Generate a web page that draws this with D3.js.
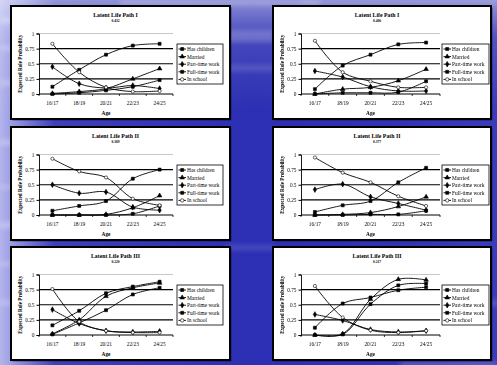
<!DOCTYPE html>
<html><head><meta charset="utf-8">
<script src="https://cdn.jsdelivr.net/npm/d3@7"></script>
<style>html,body{margin:0;padding:0;overflow:hidden;background:#2d30b3}svg{display:block}</style>
</head><body><svg id="c" width="497" height="365"></svg>
<script>
// Categories, labels and per-path values (one row per panel, one column per age band)
const ages = ["16/17", "18/19", "20/21", "22/23", "24/25"];
const seriesNames = ["Has children", "Married", "Part-time work", "Full-time work", "In school"];
const yTicks = [0, 0.25, 0.5, 0.75, 1];
const yTickLabels = ["0", "0.25", "0.5", "0.75", "1"];
const titles = ["Latent Life Path I", "Latent Life Path I", "Latent Life Path II", "Latent Life Path II", "Latent Life Path III", "Latent Life Path III"];
const shares = ["0.432", "0.406", "0.369", "0.377", "0.220", "0.217"];

const hasChildren = [
  [0.00, 0.02, 0.06, 0.12, 0.23],
  [0.00, 0.02, 0.02, 0.03, 0.21],
  [0.00, 0.00, 0.00, 0.02, 0.15],
  [0.00, 0.00, 0.01, 0.01, 0.07],
  [0.01, 0.20, 0.41, 0.67, 0.78],
  [0.00, 0.01, 0.51, 0.82, 0.85]
];
const married = [
  [0.01, 0.04, 0.09, 0.25, 0.42],
  [0.00, 0.08, 0.11, 0.22, 0.41],
  [0.00, 0.00, 0.01, 0.12, 0.32],
  [0.00, 0.01, 0.04, 0.14, 0.30],
  [0.02, 0.25, 0.64, 0.78, 0.86],
  [0.00, 0.02, 0.59, 0.92, 0.91]
];
const partTime = [
  [0.45, 0.17, 0.10, 0.14, 0.09],
  [0.38, 0.28, 0.12, 0.05, 0.05],
  [0.50, 0.36, 0.38, 0.13, 0.08],
  [0.42, 0.51, 0.30, 0.19, 0.08],
  [0.42, 0.19, 0.07, 0.05, 0.06],
  [0.34, 0.24, 0.09, 0.05, 0.07]
];
const fullTime = [
  [0.12, 0.40, 0.65, 0.80, 0.83],
  [0.08, 0.47, 0.65, 0.82, 0.85],
  [0.07, 0.15, 0.23, 0.60, 0.75],
  [0.05, 0.16, 0.23, 0.54, 0.78],
  [0.16, 0.40, 0.69, 0.80, 0.88],
  [0.12, 0.52, 0.62, 0.74, 0.79]
];
const inSchool = [
  [0.83, 0.36, 0.11, 0.04, 0.05],
  [0.88, 0.36, 0.21, 0.11, 0.11],
  [0.93, 0.72, 0.62, 0.27, 0.16],
  [0.95, 0.70, 0.54, 0.31, 0.15],
  [0.76, 0.22, 0.07, 0.04, 0.04],
  [0.81, 0.29, 0.08, 0.04, 0.07]
];
const seriesValues = [hasChildren, married, partTime, fullTime, inSchool];
const markerTypes = [d3.symbolSquare, d3.symbolTriangle, d3.symbolDiamond, d3.symbolSquare, d3.symbolCircle];
const markerFill = ["#000", "#000", "#000", "#000", "#fff"];

const W = 497, H = 365;
const svg = d3.select("#c");
const defs = svg.append("defs");

// ---- backdrop: blue slide texture ----
const bg = defs.append("linearGradient").attr("id", "bgH").attr("x1", 0).attr("x2", 1).attr("y1", 0).attr("y2", 0);
[[0, "#b4b5ec"], [0.05, "#7e81da"], [0.11, "#3c40bb"], [0.5, "#2c2fb3"], [0.8, "#3033b5"], [1, "#3a3dba"]]
  .forEach(([o, c]) => bg.append("stop").attr("offset", o).attr("stop-color", c));
const bgV = defs.append("linearGradient").attr("id", "bgV").attr("x1", 0).attr("x2", 0).attr("y1", 0).attr("y2", 1);
[[0, "#ffffff", 0.45], [0.1, "#ffffff", 0.12], [0.3, "#ffffff", 0.0], [1, "#ffffff", 0.0]]
  .forEach(([o, c, a]) => bgV.append("stop").attr("offset", o).attr("stop-color", c).attr("stop-opacity", a));
defs.append("filter").attr("id", "blur").attr("x", "-20%").attr("y", "-50%").attr("width", "140%").attr("height", "200%")
  .append("feGaussianBlur").attr("stdDeviation", 2.5);

svg.append("rect").attr("width", W).attr("height", H).attr("fill", "url(#bgH)");
svg.append("rect").attr("width", W).attr("height", H).attr("fill", "url(#bgV)");
const streaks = [
  [0, 18, 40, 5, 0.35], [0, 46, 30, 4, 0.3], [0, 80, 45, 6, 0.25], [0, 140, 35, 5, 0.3],
  [0, 185, 50, 4, 0.25], [0, 222, 40, 6, 0.3], [0, 262, 30, 4, 0.25], [0, 300, 40, 5, 0.25],
  [225, 30, 50, 12, 0.22], [225, 65, 50, 6, 0.15], [225, 245, 50, 5, 0.15],
  [400, 362, 97, 6, 0.2], [470, 300, 30, 6, 0.15], [120, 0, 200, 5, 0.25], [300, 0, 197, 4, 0.15]
];
svg.append("g").attr("filter", "url(#blur)").selectAll("rect").data(streaks).join("rect")
  .attr("x", d => d[0]).attr("y", d => d[1]).attr("width", d => d[2]).attr("height", d => d[3])
  .attr("fill", "#ffffff").attr("opacity", d => d[4]);

// ---- panels ----
const colX = [11, 273], colW = [219, 218];
const rowY = [6, 127, 247], rowH = 113;
const plotW = [134, 139], legendOff = [166, 169], legendW = [46, 47];
const font = "'Liberation Serif','Times New Roman',serif";

for (let p = 0; p < 6; p++) {
  const col = p % 2, row = Math.floor(p / 2);
  const px = colX[col], py = rowY[row], pw = colW[col];
  const g = svg.append("g").attr("transform", `translate(${px},${py})`);

  g.append("rect").attr("x", 1.5).attr("y", 1.5).attr("width", pw).attr("height", rowH)
    .attr("fill", "#0a0a30").attr("opacity", 0.5);
  g.append("rect").attr("width", pw).attr("height", rowH).attr("fill", "#fff")
    .attr("stroke", "#000").attr("stroke-width", 2);

  const left = 28, top = 27.5, bottom = 88;
  const x = d3.scalePoint().domain(ages).range([left, left + plotW[col]]).padding(0.5);
  const y = d3.scaleLinear().domain([0, 1]).range([bottom, top]);

  // titles
  const cx = pw / 2 - 5;
  g.append("text").attr("x", cx).attr("y", 11).attr("text-anchor", "middle")
    .attr("font-family", font).attr("font-weight", "bold").attr("font-size", 5.8).attr("fill", "#000").text(titles[p]);
  g.append("text").attr("x", cx).attr("y", 16).attr("text-anchor", "middle")
    .attr("font-family", font).attr("font-weight", "bold").attr("font-size", 3.6).attr("fill", "#000").text(shares[p]);

  // gridlines
  g.selectAll("line.grid").data(yTicks.filter(v => v > 0)).join("line")
    .attr("x1", left).attr("x2", left + plotW[col])
    .attr("y1", d => y(d)).attr("y2", d => y(d))
    .attr("stroke", d => d === 1 ? "#b8b8b8" : "#000")
    .attr("stroke-width", d => d === 1 ? 0.8 : 1.1);

  // y axis
  const yAxis = d3.axisLeft(y).tickValues(yTicks).tickFormat((d, i) => yTickLabels[i]).tickSize(2.5).tickPadding(2);
  const ya = g.append("g").attr("transform", `translate(${left},0)`).call(yAxis);
  ya.select(".domain").attr("stroke", "#000").attr("stroke-width", 0.9);
  ya.selectAll("text").attr("font-family", font).attr("font-size", 5.3).attr("fill", "#000");

  // x axis with ticks between categories
  const step = x.step();
  const xa = g.append("g").attr("transform", `translate(0,${bottom})`);
  xa.append("line").attr("x1", left).attr("x2", left + plotW[col]).attr("stroke", "#000").attr("stroke-width", 1);
  const bounds = d3.range(ages.length + 1).map(i => left + i * step);
  xa.selectAll("line.tk").data(bounds).join("line").attr("class", "tk")
    .attr("x1", d => d).attr("x2", d => d).attr("y1", 0).attr("y2", 2).attr("stroke", "#000").attr("stroke-width", 0.8);
  xa.selectAll("text").data(ages).join("text")
    .attr("x", d => x(d)).attr("y", 10.5).attr("text-anchor", "middle")
    .attr("font-family", font).attr("font-size", 5.3).text(d => d);

  g.append("text").attr("x", left + plotW[col] / 2).attr("y", 108.5).attr("text-anchor", "middle")
    .attr("font-family", font).attr("font-weight", "bold").attr("font-size", 5.3).text("Age");
  g.append("text").attr("transform", `translate(10.5,${(top + bottom) / 2}) rotate(-90)`)
    .attr("text-anchor", "middle").attr("font-family", font).attr("font-weight", "bold")
    .attr("font-size", 5.2).text("Expected Role Probability");

  // series
  const line = d3.line().x((d, i) => x(ages[i])).y(d => y(d)).curve(d3.curveCatmullRom.alpha(0.5));
  seriesValues.forEach((arr, s) => {
    const vals = arr[p];
    g.append("path").attr("d", line(vals)).attr("fill", "none").attr("stroke", "#000").attr("stroke-width", 0.9);
    g.selectAll(null).data(vals).join("path")
      .attr("transform", (d, i) => `translate(${x(ages[i])},${y(d)})`)
      .attr("d", d3.symbol().type(markerTypes[s]).size(s === 4 ? 8 : 9))
      .attr("fill", markerFill[s]).attr("stroke", "#000").attr("stroke-width", 0.6);
  });

  // legend
  const lx = legendOff[col], ly = 38, lh = 40;
  const lg = g.append("g").attr("transform", `translate(${lx},${ly})`);
  lg.append("rect").attr("width", legendW[col]).attr("height", lh).attr("fill", "#fff").attr("stroke", "#000").attr("stroke-width", 0.8);
  seriesNames.forEach((name, s) => {
    const yy = 5 + s * 7.6;
    lg.append("line").attr("x1", 1.5).attr("x2", 9).attr("y1", yy).attr("y2", yy).attr("stroke", "#000").attr("stroke-width", 0.9);
    lg.append("path").attr("transform", `translate(5.2,${yy})`)
      .attr("d", d3.symbol().type(markerTypes[s]).size(9)).attr("fill", markerFill[s]).attr("stroke", "#000").attr("stroke-width", 0.6);
    lg.append("text").attr("x", 10).attr("y", yy + 1.9).attr("font-family", font).attr("font-size", 5.4).text(name);
  });
}
</script></body></html>
